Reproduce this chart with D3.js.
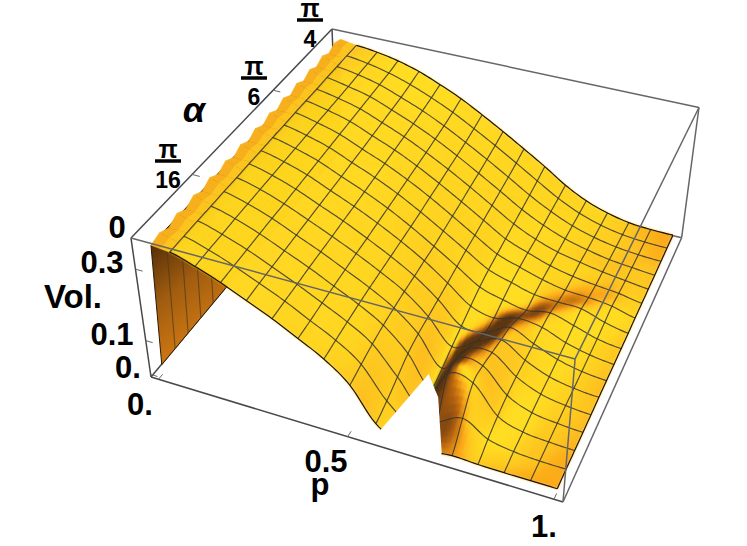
<!DOCTYPE html>
<html>
<head>
<meta charset="utf-8">
<script src="https://cdn.jsdelivr.net/npm/d3@7"></script>
<style>
html, body { margin: 0; background: #fff; }
text { font-family: "Liberation Sans", Arial, sans-serif; font-weight: bold; fill: #000; }
</style>
</head>
<body>
<svg id="chart" width="747" height="546"></svg>
<script>
const WIDTH = 747;
const HEIGHT = 546;

// mesh lines sit at sixteenths of each axis
const pValues = d3.range(1, 17).map(i => i / 16);
const alphaValues = d3.range(0, 17).map(j => j / 16 * Math.PI / 4);

// Vol., one row per alpha, one column per p
const row00 = [.355, .335, .310, .280, .250, .215, .178, .125, .035, .000, .000, .008, .005, .004, .004, .004];
const row01 = [.356, .337, .312, .283, .253, .218, .183, .135, .050, .000, .030, .064, .025, .011, .006, .005];
const row02 = [.357, .338, .314, .285, .255, .222, .188, .145, .070, .000, .120, .115, .040, .015, .008, .005];
const row03 = [.357, .340, .316, .287, .258, .225, .192, .152, .090, .005, .115, .115, .050, .020, .010, .005];
const row04 = [.358, .341, .318, .289, .260, .228, .195, .156, .100, .018, .095, .105, .055, .024, .011, .005];
const row05 = [.358, .342, .319, .291, .262, .231, .197, .159, .105, .035, .070, .095, .055, .026, .012, .006];
const row06 = [.359, .343, .321, .293, .265, .233, .199, .160, .110, .050, .050, .085, .056, .029, .013, .006];
const row07 = [.359, .344, .323, .295, .267, .236, .201, .162, .115, .065, .048, .066, .058, .032, .015, .006];
const row08 = [.360, .345, .325, .297, .270, .239, .203, .163, .121, .078, .058, .045, .056, .037, .016, .006];
const row09 = [.360, .346, .327, .300, .273, .242, .206, .167, .127, .087, .066, .048, .044, .042, .020, .006];
const row10 = [.361, .347, .329, .302, .276, .245, .210, .171, .131, .092, .070, .050, .036, .032, .024, .007];
const row11 = [.361, .348, .331, .305, .279, .248, .213, .175, .136, .097, .072, .050, .035, .026, .019, .007];
const row12 = [.361, .349, .333, .308, .282, .251, .217, .180, .141, .102, .072, .050, .036, .024, .015, .007];
const row13 = [.362, .350, .335, .311, .285, .255, .221, .184, .146, .107, .075, .050, .033, .020, .013, .007];
const row14 = [.362, .352, .337, .314, .289, .259, .225, .189, .151, .112, .078, .050, .031, .018, .011, .008];
const row15 = [.362, .353, .339, .319, .294, .265, .231, .195, .157, .118, .080, .050, .029, .016, .010, .008];
const row16 = [.362, .355, .343, .325, .300, .272, .238, .202, .164, .125, .083, .050, .028, .014, .009, .008];
const volume = [row00, row01, row02, row03, row04, row05, row06, row07, row08, row09, row10, row11, row12, row13, row14, row15, row16];

// the crest next to p = 0 is jagged in the original, heights along alpha
const crestP = 0.015;
const crestZ = [.360, .368, .356, .370, .357, .371, .358, .372, .358, .372, .359, .373, .360, .374, .361, .375, .362, .376, .363, .377, .364, .377, .365, .378, .366, .378, .370];

// no surface in this part of the domain: p, alpha, vol of its outline
const gapP = [.57, .60, .69, .725, .725, .57];
const gapAlpha = [0, .177, .049, 0, -.03, -.03];
const gapZ = [.014, .012, .104, .006, 0, 0];

const zTicks = [0, .1, .3];
const alphaTicks = [Math.PI / 16, Math.PI / 6, Math.PI / 4];
const pTicks = [0, .5, 1];

// Mathematica pads the plot range by 2% inside the box
const uScale = d3.scaleLinear([0, 1], [.02, .98]);
const vScale = d3.scaleLinear([0, Math.PI / 4], [.02, .98]);
const wScale = d3.scaleLinear([0, .375], [.02, .98]);

// camera, worked out from the corners of the box
function camera(u, v, w) {
  const d = 1 - .087 * u + .225 * v - .07 * w;
  return [
    (151 + 363 * u + 261.7 * v - 29.2 * w) / d,
    (377 + 81.3 * u - 187.8 * v - 155.7 * w) / d,
    d
  ];
}
const project = (p, a, z) => camera(uScale(p), vScale(a), wScale(z));

const svg = d3.select('#chart');
const line = d3.line();

// smooth lookup in the table
function cubic(a, b, c, d, t) {
  return b + .5 * t * (c - a + t * (2 * a - 5 * b + 4 * c - d + t * (3 * (b - c) + d - a)));
}
const clampIdx = (i, n) => Math.max(0, Math.min(n - 1, i));
function volAt(fi, fj) {
  const i0 = Math.min(Math.floor(fi), pValues.length - 2);
  const j0 = Math.min(Math.floor(fj), alphaValues.length - 2);
  const ti = fi - i0, tj = fj - j0;
  const rowVal = j => {
    const r = volume[clampIdx(j, volume.length)];
    return cubic(r[clampIdx(i0 - 1, r.length)], r[i0], r[i0 + 1], r[clampIdx(i0 + 2, r.length)], ti);
  };
  const v = cubic(rowVal(j0 - 1), rowVal(j0), rowVal(j0 + 1), rowVal(j0 + 2), tj);
  return Math.max(0, v);
}
const pAt = fi => d3.interpolateNumber(pValues[0], pValues[15])(fi / 15);
const alphaAt = fj => d3.interpolateNumber(alphaValues[0], alphaValues[16])(fj / 16);

const shadeColor = d3.scaleLinear()
  .domain([0, .35, .62, .72, .86])
  .range(['#5a3208', '#b4600f', '#fba414', '#fdc31e', '#ffdc20'])
  .clamp(true);

// simple light from the +p side and a bit from the front
function shadeAt(fi, fj) {
  const e = .25;
  const wa = wScale(volAt(Math.max(0, fi - e), fj)), wb = wScale(volAt(Math.min(15, fi + e), fj));
  const wc = wScale(volAt(fi, Math.max(0, fj - e))), wd = wScale(volAt(fi, Math.min(16, fj + e)));
  const du = uScale(pAt(Math.min(15, fi + e))) - uScale(pAt(Math.max(0, fi - e)));
  const dv = vScale(alphaAt(Math.min(16, fj + e))) - vScale(alphaAt(Math.max(0, fj - e)));
  const nx = -(wb - wa) / du, ny = -(wd - wc) / dv, nz = 1;
  const len = Math.hypot(nx, ny, nz);
  const l = [.62, -.35, .70];
  return (nx * l[0] + ny * l[1] + nz * l[2]) / len * .85 + .03;
}

// box lines behind the surface
const corner = (u, v, w) => camera(u, v, w).slice(0, 2);
const boxBack = [
  [[0, 0, 0], [1, 0, 0]], [[1, 0, 0], [1, 1, 0]], [[1, 1, 0], [0, 1, 0]], [[0, 1, 0], [0, 0, 0]],
  [[0, 1, 0], [0, 1, 1]], [[1, 1, 0], [1, 1, 1]], [[0, 0, 0], [0, 0, 1]],
  [[0, 1, 1], [1, 1, 1]], [[0, 0, 1], [0, 1, 1]]
];
const boxFront = [
  [[0, 0, 1], [1, 0, 1]], [[1, 0, 1], [1, 1, 1]], [[1, 0, 0], [1, 0, 1]]
];
const drawBox = (g, edges) => g.selectAll('path').data(edges).join('path')
  .attr('d', d => line(d.map(c => corner(...c))))
  .attr('fill', 'none').attr('stroke', '#666').attr('stroke-width', 1.5);

drawBox(svg.append('g').attr('class', 'box-back'), boxBack);
svg.select('.box-back').selectAll('path')
  .filter(d => (d[0][1] === 0 && d[1][1] === 0) || (d[0][0] === 0 && d[1][0] === 0))
  .attr('stroke', '#484848');

// small ticks on the box edges
const ticks = svg.append('g').attr('stroke', '#666').attr('stroke-width', 1).attr('fill', 'none');
zTicks.forEach(z => ticks.append('path').attr('d', line([corner(0, 0, wScale(z)), corner(.018, 0, wScale(z))])));
alphaTicks.slice(0, 2).forEach(a => ticks.append('path').attr('d', line([corner(0, vScale(a), 1), corner(.02, vScale(a), 1)])));
pTicks.forEach(p => ticks.append('path').attr('d', line([corner(uScale(p), 0, 0), corner(uScale(p), .018, 0)])));

// wall at p = 0
const defs = svg.append('defs');
const wallGrad = defs.append('linearGradient').attr('id', 'wallGrad')
  .attr('gradientUnits', 'userSpaceOnUse')
  .attr('x1', 150).attr('y1', 250).attr('x2', 215).attr('y2', 330);
wallGrad.append('stop').attr('offset', 0).attr('stop-color', '#5a3208');
wallGrad.append('stop').attr('offset', .45).attr('stop-color', '#a05c10');
wallGrad.append('stop').attr('offset', 1).attr('stop-color', '#d27a12');
defs.append('filter').attr('id', 'soft').append('feGaussianBlur').attr('stdDeviation', .8);

const wall = svg.append('g');
const wallPts = [
  ...alphaValues.map(a => project(0, a, .02)),
  ...alphaValues.slice().reverse().map(a => project(crestP, a, crestZ[0]))
];
wall.append('path').attr('d', line(wallPts.map(q => q.slice(0, 2))) + 'Z')
  .attr('fill', 'url(#wallGrad)').attr('stroke', '#2a1a06').attr('stroke-width', 1);
alphaValues.slice(1).forEach(a => {
  wall.append('path').attr('d', line([project(0, a, .02), project(crestP, a, crestZ[0])].map(q => q.slice(0, 2))))
    .attr('stroke', '#4a3a20').attr('stroke-opacity', .7).attr('stroke-width', 1.1).attr('fill', 'none');
});

// everything that belongs to the sheet is clipped by the gap
const gapPoly = gapP.map((p, i) => project(p, gapAlpha[i], gapZ[i]).slice(0, 2));
svg.append('clipPath').attr('id', 'gap').append('path')
  .attr('clip-rule', 'evenodd')
  .attr('d', `M0 0H${WIDTH}V${HEIGHT}H0Z` + line(gapPoly) + 'Z');
const sheet = svg.append('g').attr('clip-path', 'url(#gap)');

// crest strip
const crestColor = d3.scaleLinear([0, 1], ['#f09a1c', '#fdc31e']);
crestZ.slice(0, -1).forEach((z, k) => {
  const a0 = k / (crestZ.length - 1) * Math.PI / 4, a1 = (k + 1) / (crestZ.length - 1) * Math.PI / 4;
  const fj0 = a0 / alphaValues[16] * 16, fj1 = a1 / alphaValues[16] * 16;
  [[0, .5], [.5, 1]].forEach(([s0, s1]) => {
    const at = (a, top, fj, s) => project(crestP + (pValues[0] - crestP) * s, a, top + (volAt(0, fj) - top) * s).slice(0, 2);
    const pts = [at(a0, z, fj0, s0), at(a1, crestZ[k + 1], fj1, s0), at(a1, crestZ[k + 1], fj1, s1), at(a0, z, fj0, s1)];
    sheet.append('path').attr('d', line(pts) + 'Z').attr('fill', crestColor(s1)).attr('stroke', crestColor(s1)).attr('stroke-width', .5);
  });
});

// surface as small quads, far ones first
const SUB = 6;
const quads = [];
d3.range(0, 15 * SUB).forEach(a => {
  d3.range(0, 16 * SUB).forEach(b => {
    const fi0 = a / SUB, fi1 = (a + 1) / SUB, fj0 = b / SUB, fj1 = (b + 1) / SUB;
    const c = [[fi0, fj0], [fi1, fj0], [fi1, fj1], [fi0, fj1]]
      .map(([fi, fj]) => project(pAt(fi), alphaAt(fj), volAt(fi, fj)));
    quads.push({
      pts: c.map(q => q.slice(0, 2)),
      depth: d3.mean(c, q => q[2]),
      color: shadeColor(shadeAt((fi0 + fi1) / 2, (fj0 + fj1) / 2))
    });
  });
});
quads.sort((x, y) => y.depth - x.depth);
sheet.append('g').attr('filter', 'url(#soft)').selectAll('path').data(quads).join('path')
  .attr('d', d => line(d.pts) + 'Z')
  .attr('fill', d => d.color)
  .attr('stroke', d => d.color)
  .attr('stroke-width', .7);

// mesh
const meshG = sheet.append('g').attr('fill', 'none').attr('stroke', '#35352a').attr('stroke-opacity', .85).attr('stroke-width', 1.15);
d3.range(1, 16).forEach(j => {
  const pts = d3.range(0, 15.001, .1).map(fi => project(pAt(fi), alphaAt(j), volAt(fi, j)).slice(0, 2));
  meshG.append('path').attr('d', line(pts));
});
d3.range(0, 15).forEach(i => {
  const pts = d3.range(0, 16.001, .1).map(fj => project(pAt(i), alphaAt(fj), volAt(i, fj)).slice(0, 2));
  meshG.append('path').attr('d', line(pts));
});

// surface outline
const outline = svg.append('g').attr('clip-path', 'url(#gap)').attr('fill', 'none').attr('stroke', '#1c1408').attr('stroke-width', 1.2);
const edgeAlong = fj => d3.range(0, 15.001, .125).map(fi => project(pAt(fi), alphaAt(fj), volAt(fi, fj)).slice(0, 2));
outline.append('path').attr('d', line(edgeAlong(0)));
outline.append('path').attr('d', line(edgeAlong(16)));
outline.append('path').attr('d', line(d3.range(0, 16.001, .125).map(fj => project(pAt(15), alphaAt(fj), volAt(15, fj)).slice(0, 2))));

drawBox(svg.append('g'), boxFront);

// labels
const label = (x, y, s, size, style) => {
  const t = svg.append('text').attr('x', x).attr('y', y).attr('text-anchor', 'middle').attr('font-size', size).text(s);
  if (style) t.attr('font-style', style);
  return t;
};
label(117, 238, '0', 31);
label(102, 273, d3.format('.1f')(zTicks[2]), 31);
label(73, 308, 'Vol.', 33);
label(112, 345, d3.format('.1f')(zTicks[1]), 31);
label(128, 378, '0.', 31);
label(140, 415, '0.', 31);
label(326, 472, d3.format('.1f')(pTicks[1]), 31);
label(320, 495, 'p', 31);
label(544, 537, '1.', 31);
label(194, 122, 'α', 36, 'italic');

const fraction = (x, yLine, den) => {
  label(x, yLine - 3, 'π', 25);
  svg.append('path').attr('d', line([[x - 13, yLine], [x + 13, yLine]])).attr('stroke', '#000').attr('stroke-width', 3.5);
  label(x, yLine + 27, den, 23);
};
fraction(168, 161, '16');
fraction(254, 78, '6');
fraction(310, 20, '4');
</script>
</body>
</html>
